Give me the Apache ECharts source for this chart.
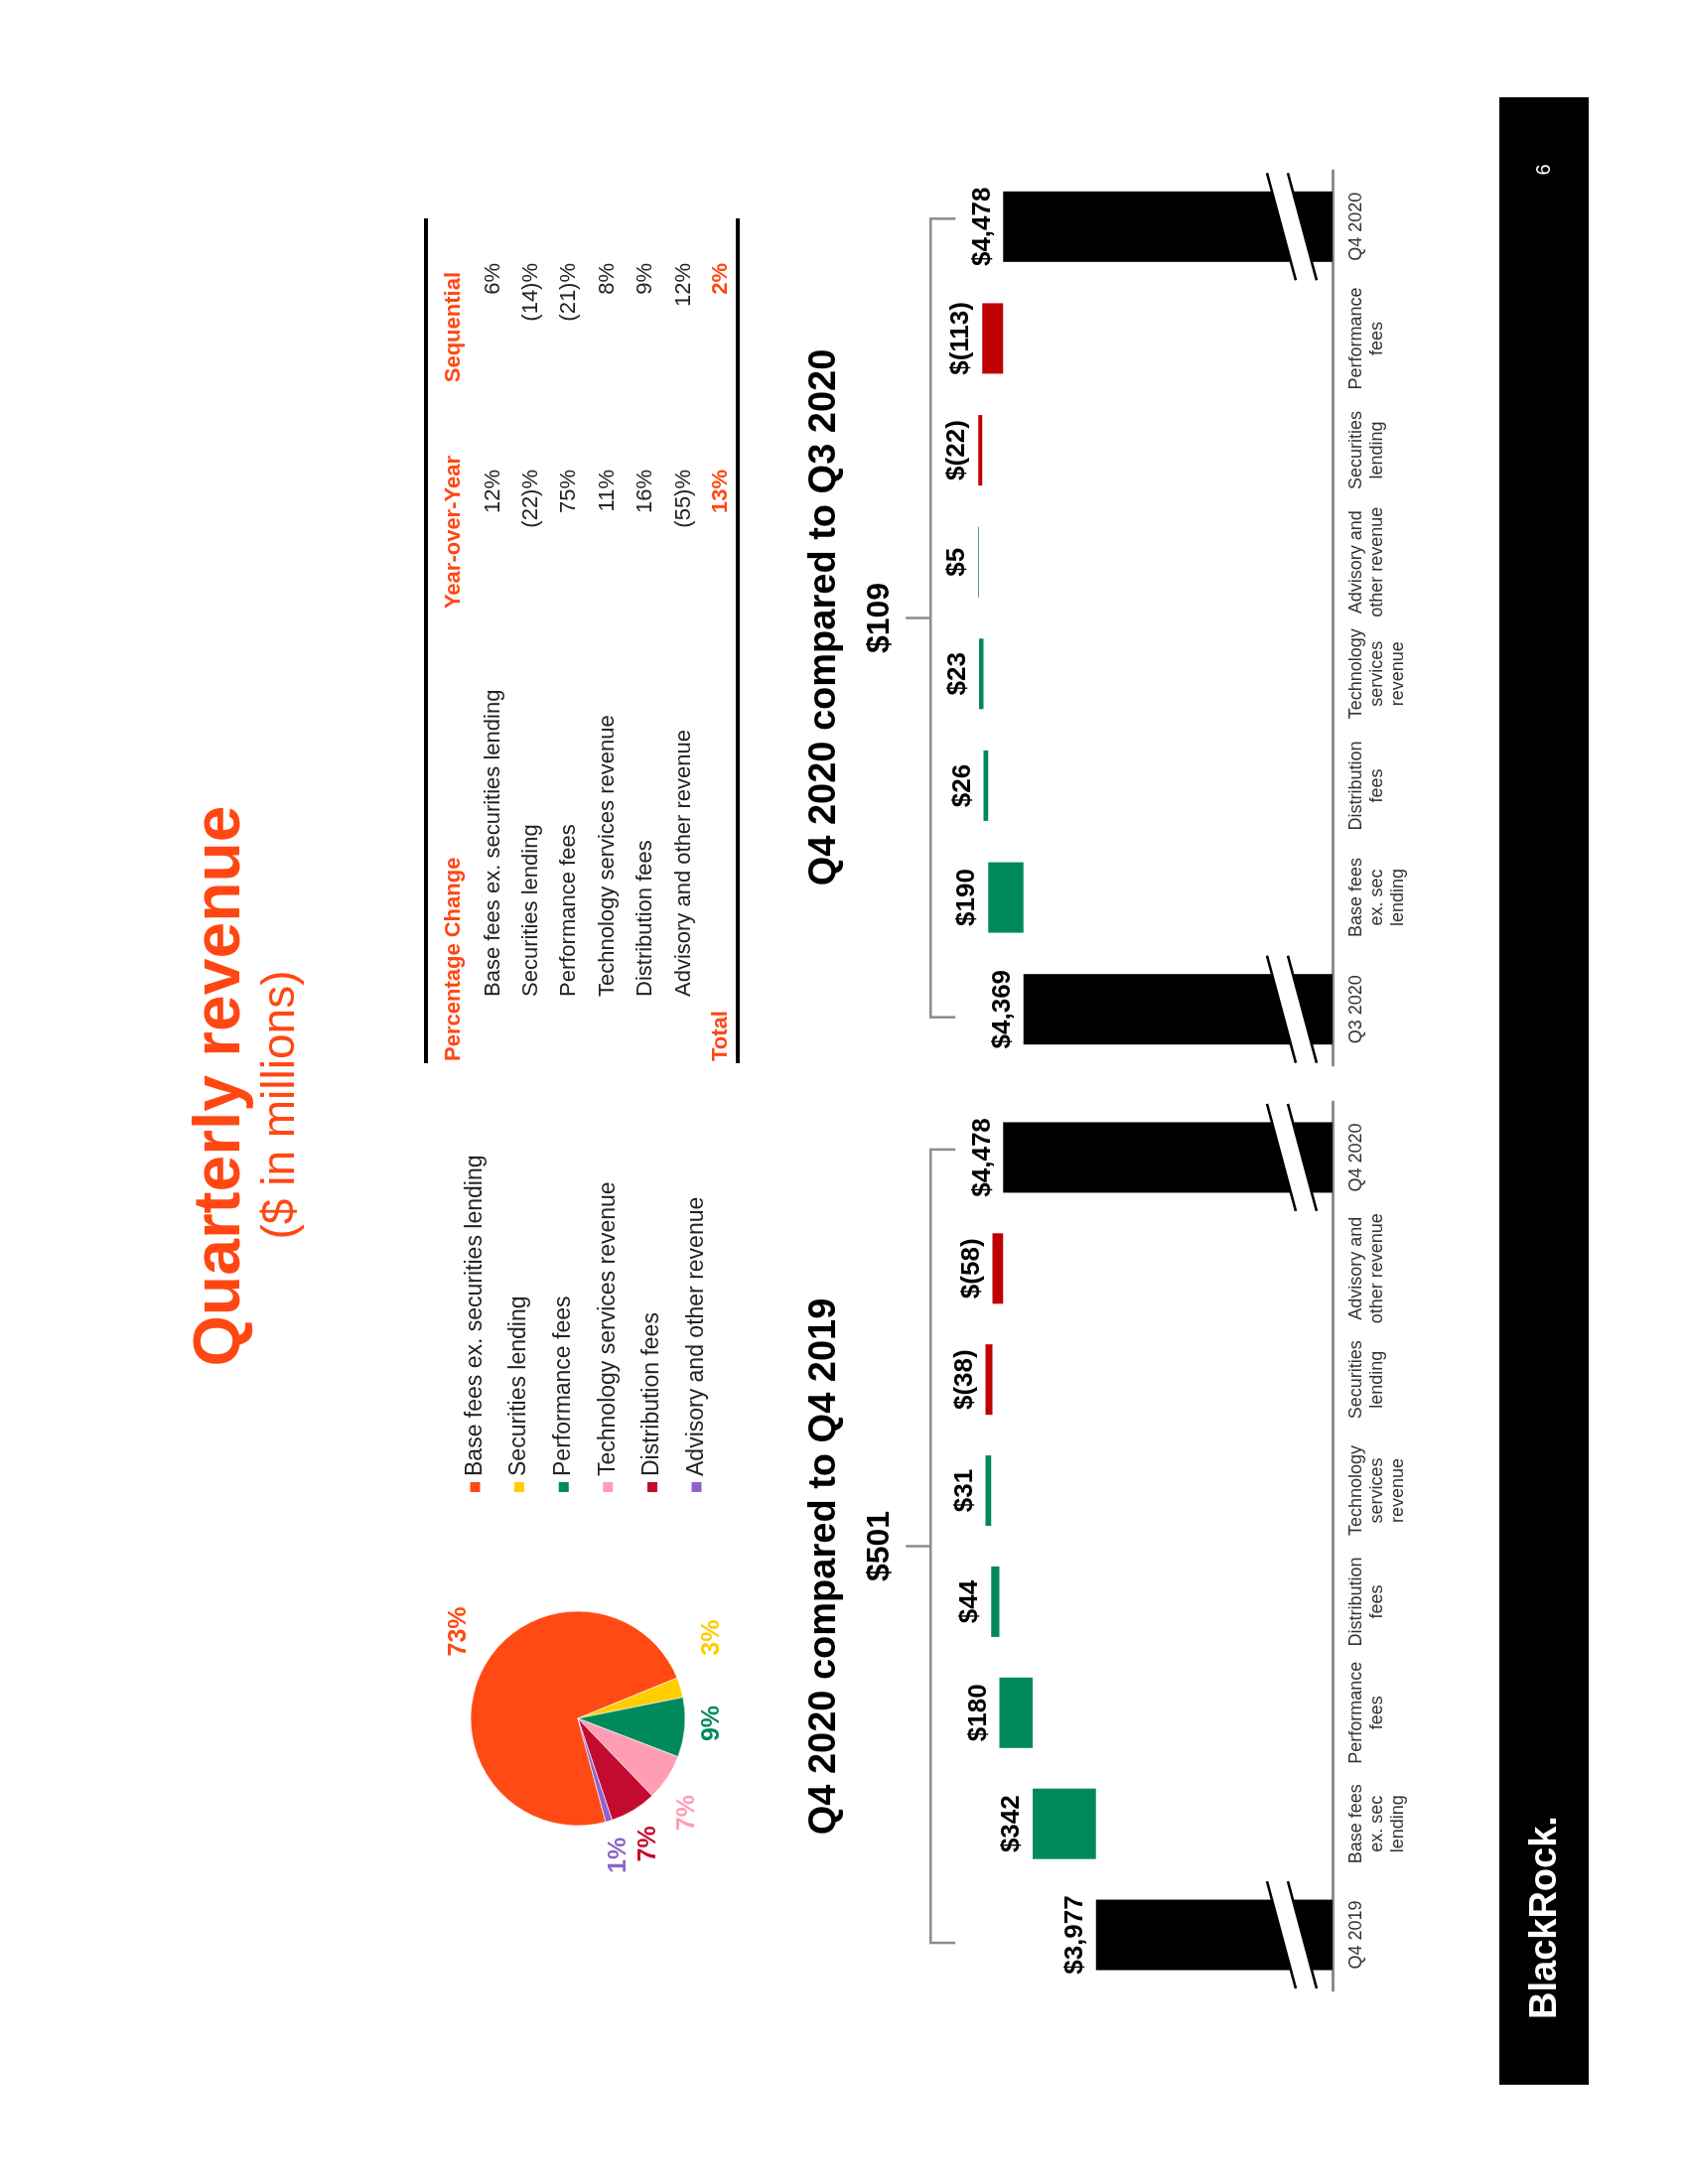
<!DOCTYPE html>
<html>
<head>
<meta charset="utf-8">
<script src="https://cdn.jsdelivr.net/npm/echarts@6/dist/echarts.min.js"></script>
<style>
  html, body { margin: 0; padding: 0; background: #fff; }
  body { width: 1700px; height: 2200px; overflow: hidden; position: relative; }
  /* the slide is landscape, the page shows it turned a quarter to the left */
  #slide {
    position: absolute; left: 0; top: 0;
    width: 2200px; height: 1700px;
    transform-origin: 0 0;
    transform: translate(0, 2200px) rotate(-90deg);
  }
</style>
</head>
<body>
<div id="slide"></div>
<script>
// ---- data ----
const pieNames = ['Base fees ex. securities lending', 'Securities lending', 'Performance fees',
  'Technology services revenue', 'Distribution fees', 'Advisory and other revenue'];
const pieShares = [73, 3, 9, 7, 7, 1];

const tableHeader = ['Percentage Change', 'Year-over-Year', 'Sequential'];
const tableRows = ['Base fees ex. securities lending', 'Securities lending', 'Performance fees',
  'Technology services revenue', 'Distribution fees', 'Advisory and other revenue'];
const tableYoY = ['12%', '(22)%', '75%', '11%', '16%', '(55)%'];
const tableSeq = ['6%', '(14)%', '(21)%', '8%', '9%', '12%'];
const tableTotal = ['Total', '13%', '2%'];

const leftCategories = ['Q4 2019', 'Base fees\nex. sec\nlending', 'Performance\nfees', 'Distribution\nfees',
  'Technology\nservices\nrevenue', 'Securities\nlending', 'Advisory and\nother revenue', 'Q4 2020'];
const leftStart = 3977;
const leftChanges = [342, 180, 44, 31, -38, -58];
const leftEnd = 4478;
const leftTotalChange = 501;

const rightCategories = ['Q3 2020', 'Base fees\nex. sec\nlending', 'Distribution\nfees',
  'Technology\nservices\nrevenue', 'Advisory and\nother revenue', 'Securities\nlending', 'Performance\nfees', 'Q4 2020'];
const rightStart = 4369;
const rightChanges = [190, 26, 23, 5, -22, -113];
const rightEnd = 4478;
const rightTotalChange = 109;

// ---- styles ----
const FONT = '"Liberation Sans", Arial, sans-serif';
const ORANGE = '#ff4713';
const GREEN = '#008a5c';
const RED = '#c00000';
const GRAY = '#8c8c8c';
const pieColors = ['#ff4a14', '#ffcd00', '#008a5c', '#ff9db5', '#c30b2f', '#9063c9'];
// small shifts so the percent labels sit where the slide has them
const pieLabelNudge = [[24, 8], [40, -2], [7, -7], [-16, -9], [-4, -3], [-1, 0]];
const AXIS_MIN = 2700, AXIS_MAX = 5000;
const BREAK_AT = 2920;     // where the "//" cut sits on the total bars
const BRACKET_AT = 4870;   // value level of the bracket over each chart

const chart = echarts.init(document.getElementById('slide'));

// split a bridge into invisible base + up / down / total pieces
function bridge(start, changes, end) {
  const base = ['-'], up = ['-'], down = ['-'], total = [start];
  let run = start;
  changes.forEach(c => {
    if (c >= 0) { base.push(run); up.push(c); down.push('-'); }
    else { base.push(run + c); up.push('-'); down.push(-c); }
    total.push('-');
    run += c;
  });
  base.push('-'); up.push('-'); down.push('-'); total.push(end);
  return { base, up, down, total };
}

const barLabel = {
  show: true, position: 'top', distance: 8,
  color: '#000', fontFamily: FONT, fontWeight: 'bold', fontSize: 26
};

function bridgeSeries(idx, start, changes, end, totalChange, lastIndex) {
  const b = bridge(start, changes, end);
  const common = { type: 'bar', stack: 'w' + idx, xAxisIndex: idx, yAxisIndex: idx, barWidth: 71, silent: true };
  return [
    Object.assign({}, common, { name: 'base' + idx, data: b.base, itemStyle: { color: 'rgba(0,0,0,0)' } }),
    Object.assign({}, common, { name: 'up' + idx, data: b.up, itemStyle: { color: GREEN },
      label: Object.assign({}, barLabel, { formatter: p => '$' + p.value }) }),
    Object.assign({}, common, { name: 'down' + idx, data: b.down, itemStyle: { color: RED },
      label: Object.assign({}, barLabel, { formatter: p => '$(' + p.value + ')' }) }),
    Object.assign({}, common, { name: 'total' + idx, data: b.total, itemStyle: { color: '#000' },
      label: Object.assign({}, barLabel, { formatter: p => '$' + Number(p.value).toLocaleString('en-US') }) }),
    {
      // axis-break marks on the two total bars
      type: 'custom', xAxisIndex: idx, yAxisIndex: idx, z: 5, silent: true,
      data: [[0, BREAK_AT], [lastIndex, BREAK_AT]],
      renderItem: function (params, api) {
        const p = api.coord([api.value(0), api.value(1)]);
        const x = p[0], y = p[1];
        return {
          type: 'group', children: [
            { type: 'polygon', shape: { points: [[x - 54, y + 4], [x + 54, y - 25], [x + 54, y - 4], [x - 54, y + 25]] },
              style: { fill: '#fff' } },
            { type: 'line', shape: { x1: x - 54, y1: y + 4, x2: x + 54, y2: y - 25 }, style: { stroke: '#000', lineWidth: 2.5 } },
            { type: 'line', shape: { x1: x - 54, y1: y + 25, x2: x + 54, y2: y - 4 }, style: { stroke: '#000', lineWidth: 2.5 } }
          ]
        };
      }
    },
    {
      // bracket spanning start to end with the net change on top
      type: 'custom', xAxisIndex: idx, yAxisIndex: idx, z: 5, silent: true,
      encode: { x: [0, 1], y: 2 },
      data: [[0, lastIndex, BRACKET_AT]],
      renderItem: function (params, api) {
        const a = api.coord([api.value(0), api.value(2)]);
        const b = api.coord([api.value(1), api.value(2)]);
        const x0 = a[0] - 8, x1 = b[0] + 8, y = a[1], mid = (x0 + x1) / 2;
        return {
          type: 'group', children: [
            { type: 'polyline', shape: { points: [[x0, y + 25], [x0, y], [x1, y], [x1, y + 25]] },
              style: { stroke: GRAY, lineWidth: 2.5, fill: null } },
            { type: 'line', shape: { x1: mid, y1: y, x2: mid, y2: y - 25 }, style: { stroke: GRAY, lineWidth: 2.5 } },
            { type: 'text', x: mid, y: y - 51,
              style: { text: '$' + totalChange, fill: '#000', font: 'bold 32px ' + FONT,
                textAlign: 'center', textVerticalAlign: 'middle' } }
          ]
        };
      }
    }
  ];
}

function catAxis(idx, cats) {
  return {
    type: 'category', gridIndex: idx, data: cats,
    axisLine: { show: true, lineStyle: { color: GRAY, width: 3 } },
    axisTick: { show: false },
    axisLabel: { interval: 0, margin: 14, fontFamily: FONT, fontSize: 18, lineHeight: 21, color: '#333' }
  };
}
function valAxis(idx) {
  return { type: 'value', gridIndex: idx, min: AXIS_MIN, max: AXIS_MAX, show: false, splitLine: { show: false } };
}

// ---- text pieces (table, titles, footer) ----
const texts = [];
function txt(text, x, y, font, fill, align) {
  texts.push({ type: 'text', x: x, y: y, silent: true,
    style: { text: text, font: font, fill: fill, textAlign: align || 'left', textVerticalAlign: 'middle' } });
  return texts[texts.length - 1];
}
txt('Quarterly revenue', 1106, 223, 'bold 66px ' + FONT, ORANGE, 'center');
txt('($ in millions)', 1087, 283, '46px ' + FONT, ORANGE, 'center').style.letterSpacing = 3.5;
txt('Q4 2020 compared to Q4 2019', 622, 831, 'bold 38px ' + FONT, '#000', 'center');
txt('Q4 2020 compared to Q3 2020', 1578, 831, 'bold 38px ' + FONT, '#000', 'center');

const rowY = [497, 535, 573, 612, 650, 689];
txt(tableHeader[0], 1131, 457, 'bold 22px ' + FONT, ORANGE);
txt(tableHeader[1], 1741, 457, 'bold 22px ' + FONT, ORANGE, 'right');
txt(tableHeader[2], 1926, 457, 'bold 22px ' + FONT, ORANGE, 'right');
tableRows.forEach((r, i) => {
  txt(r, 1196, rowY[i], '22px ' + FONT, '#222');
  txt(tableYoY[i], 1727, rowY[i], '22px ' + FONT, '#222', 'right');
  txt(tableSeq[i], 1935, rowY[i], '22px ' + FONT, '#222', 'right');
});
txt(tableTotal[0], 1131, 726, 'bold 22px ' + FONT, ORANGE);
txt(tableTotal[1], 1727, 726, 'bold 22px ' + FONT, ORANGE, 'right');
txt(tableTotal[2], 1935, 726, 'bold 22px ' + FONT, ORANGE, 'right');

const rules = [
  { type: 'rect', shape: { x: 1129, y: 427, width: 851, height: 4 }, style: { fill: '#000' }, silent: true },
  { type: 'rect', shape: { x: 1129, y: 741, width: 851, height: 4 }, style: { fill: '#000' }, silent: true },
  { type: 'rect', shape: { x: 100, y: 1510, width: 2002, height: 90 }, style: { fill: '#000' }, silent: true }
];
txt('BlackRock.', 166, 1557, 'bold 38px ' + FONT, '#fff');
txt('6', 2029, 1555, '20px ' + FONT, '#fff', 'center');

const option = {
  animation: false,
  legend: {
    data: pieNames, orient: 'vertical', left: 690, top: 462, selectedMode: false,
    icon: 'rect', itemWidth: 12, itemHeight: 12, itemGap: 21.6,
    textStyle: { fontFamily: FONT, fontSize: 23, lineHeight: 23, color: '#222' }
  },
  grid: [
    { left: 195, width: 895, top: 913, height: 429 },
    { left: 1127, width: 901, top: 913, height: 429 }
  ],
  xAxis: [catAxis(0, leftCategories), catAxis(1, rightCategories)],
  yAxis: [valAxis(0), valAxis(1)],
  graphic: { elements: rules.concat(texts) },
  series: [
    {
      type: 'pie', name: 'mix', center: [469, 582], radius: 108, startAngle: 195, clockwise: true,
      silent: true, label: { show: false }, labelLine: { show: false },
      itemStyle: { borderColor: '#fff', borderWidth: 0.6 },
      data: pieNames.map((n, i) => ({ name: n, value: pieShares[i], itemStyle: { color: pieColors[i] } }))
    },
    {
      // transparent twin ring that only carries the percentage labels
      type: 'pie', name: 'mixLabels', center: [469, 582], radius: [0, 280], startAngle: 195, clockwise: true,
      silent: true, labelLine: { show: false }, z: 1,
      itemStyle: { color: 'rgba(0,0,0,0)', borderWidth: 0 },
      label: { show: true, position: 'inside', formatter: '{c}%', fontFamily: FONT, fontWeight: 'bold', fontSize: 25 },
      data: pieNames.map((n, i) => ({ name: n, value: pieShares[i],
        label: { color: pieColors[i], offset: pieLabelNudge[i] } }))
    }
  ].concat(
    bridgeSeries(0, leftStart, leftChanges, leftEnd, leftTotalChange, leftCategories.length - 1),
    bridgeSeries(1, rightStart, rightChanges, rightEnd, rightTotalChange, rightCategories.length - 1)
  )
};

chart.setOption(option);
</script>
</body>
</html>
